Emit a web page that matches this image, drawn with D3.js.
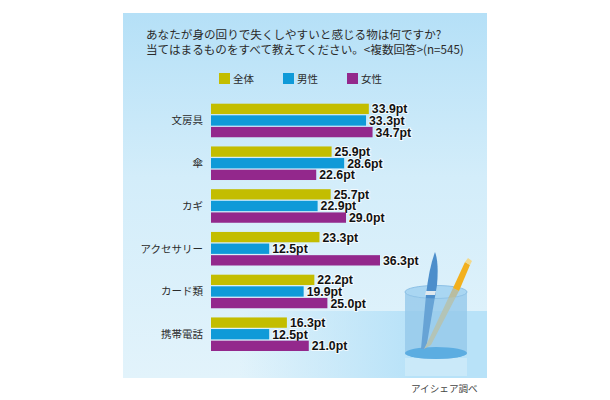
<!DOCTYPE html>
<meta charset="utf-8">
<style>
html, body { margin: 0; background: #fff; }
svg { display: block; }
text { font-family: "Noto Sans CJK JP", sans-serif; fill: #2b2b2b; }
.val { font-family: "Liberation Sans", sans-serif; font-weight: bold; font-size: 12.3px; fill: #111;
  paint-order: stroke; stroke: #fff; stroke-width: 2px; stroke-opacity: .75; }
.cat { font-size: 10.5px; }
</style>
<body>
<script src="https://d3js.org/d3.v7.min.js"></script>
<script>
var categories = ["文房具", "傘", "カギ", "アクセサリー", "カード類", "携帯電話"];
var seriesNames = ["全体", "男性", "女性"];
var seriesColors = ["#c3bd00", "#0f9ad8", "#93288c"];
var zentai = [33.9, 25.9, 25.7, 23.3, 22.2, 16.3];
var dansei = [33.3, 28.6, 22.9, 12.5, 19.9, 12.5];
var josei = [34.7, 22.6, 29.0, 36.3, 25.0, 21.0];
var seriesValues = [zentai, dansei, josei];

var svg = d3.select("body").append("svg").attr("width", 610).attr("height", 400);
var defs = svg.append("defs");

// panel background
var bg = defs.append("linearGradient").attr("id", "bg")
    .attr("x1", 0).attr("y1", 0).attr("x2", 0).attr("y2", 1);
bg.append("stop").attr("offset", "0").attr("stop-color", "#b5e0f7");
bg.append("stop").attr("offset", "0.45").attr("stop-color", "#d3edfa");
bg.append("stop").attr("offset", "1").attr("stop-color", "#e2f3fb");
var floor = defs.append("linearGradient").attr("id", "floor")
    .attr("x1", 0).attr("y1", 0).attr("x2", 1).attr("y2", 0);
floor.append("stop").attr("offset", "0").attr("stop-color", "#b8e2f8").attr("stop-opacity", 0);
floor.append("stop").attr("offset", "0.7").attr("stop-color", "#b8e2f8").attr("stop-opacity", 1);
svg.append("rect").attr("x", 123).attr("y", 13).attr("width", 364).attr("height", 365).attr("fill", "url(#bg)");
svg.append("rect").attr("x", 240).attr("y", 311).attr("width", 247).attr("height", 67).attr("fill", "url(#floor)");

// title
svg.append("text").attr("x", 146).attr("y", 38.5).attr("font-size", 11.6)
    .text("あなたが身の回りで失くしやすいと感じる物は何ですか?");
svg.append("text").attr("x", 146).attr("y", 53.5).attr("font-size", 11.6)
    .text("当てはまるものをすべて教えてください。<複数回答>(n=545)");

// legend
var legend = svg.selectAll(".leg").data(seriesNames).enter().append("g")
    .attr("transform", function(d, i) { return "translate(" + (219 + i * 64) + ",73)"; });
legend.append("rect").attr("width", 11).attr("height", 11)
    .attr("fill", function(d, i) { return seriesColors[i]; });
legend.append("text").attr("x", 14).attr("y", 10).attr("font-size", 10.5).text(function(d) { return d; });

// scales
var x = d3.scaleLinear().domain([0, 36.3]).range([211, 380]);
var y = d3.scaleBand().domain(categories).range([103.7, 351]).paddingInner(0.215).paddingOuter(0).align(0);
var y1 = d3.scaleBand().domain(d3.range(3)).range([0, y.bandwidth()]).paddingInner(0.11);

var rows = svg.selectAll(".row").data(categories).enter().append("g")
    .attr("transform", function(d) { return "translate(0," + y(d) + ")"; });

rows.append("text").attr("class", "cat")
    .attr("x", 203).attr("y", y.bandwidth() / 2 + 4).attr("text-anchor", "end")
    .text(function(d) { return d; });

seriesValues.forEach(function(vals, s) {
  rows.append("rect")
      .attr("x", x(0))
      .attr("y", y1(s))
      .attr("height", y1.bandwidth())
      .attr("width", function(d, i) { return x(vals[i]) - x(0); })
      .attr("fill", seriesColors[s]);
  rows.append("text").attr("class", "val")
      .attr("x", function(d, i) { return x(vals[i]) + 3; })
      .attr("y", y1(s) + y1.bandwidth() / 2 + 4.5)
      .text(function(d, i) { return vals[i].toFixed(1) + "pt"; });
});

// pen holder illustration
var cup = svg.append("g");
// reflection under the glass
cup.append("rect").attr("x", 405).attr("y", 358).attr("width", 62).attr("height", 18).attr("fill", "#d6eefa").attr("opacity", .6);
// back of the glass
cup.append("path").attr("d", "M405 292 L405 353 A31 6 0 0 0 467 353 L467 292 Z").attr("fill", "#8fc4ea").attr("opacity", .75);
cup.append("ellipse").attr("cx", 436).attr("cy", 292).attr("rx", 31).attr("ry", 6.5).attr("fill", "#a9d6f2").attr("stroke", "#8cc0e6");
cup.append("ellipse").attr("cx", 436).attr("cy", 353).attr("rx", 31).attr("ry", 6).attr("fill", "#3d9cdc");
// pen
cup.append("path").attr("d", "M421 349 L426 295 Q429 268 435 252 Q439 262 437 285 L426 349 Z").attr("fill", "#4c8ecb");
cup.append("path").attr("d", "M426 291 L436 291 L435 295 L425 295 Z").attr("fill", "#dfe8ee");
// pencil
cup.append("path").attr("d", "M424 349 L430 337 L453 288 L459 291 L431 345 Z").attr("fill", "#b9bda0");
cup.append("path").attr("d", "M453 288 L465 262 L470 265 L459 291 Z").attr("fill", "#f2b01e");
cup.append("path").attr("d", "M465 262 L468 258 L472 261 L470 265 Z").attr("fill", "#f3d98c");
// front of the glass
cup.append("path").attr("d", "M405 292 A31 6.5 0 0 0 467 292 L467 353 A31 6 0 0 1 405 353 Z").attr("fill", "#a6d3f0").attr("opacity", .3);

// source
svg.append("text").attr("x", 411).attr("y", 392).attr("font-size", 9.6).style("fill", "#444").text("アイシェア調べ");
</script>
</body>
